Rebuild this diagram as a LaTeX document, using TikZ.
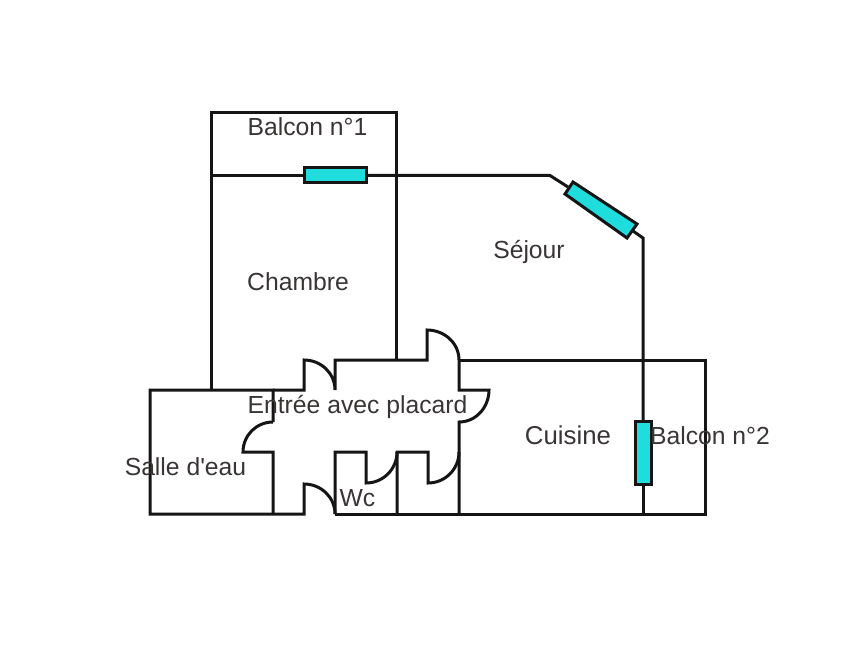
\documentclass[tikz,border=0pt]{standalone}
\usepackage{fontspec}
\setmainfont{Liberation Sans}[Ligatures=TeXOff]
\definecolor{wallc}{HTML}{151515}
\definecolor{glass}{HTML}{1FDDDD}
\definecolor{txt}{HTML}{3A3535}
\tikzset{
  wall/.style={draw=wallc,line width=3pt,line join=miter,line cap=butt},
  pane/.style={draw=wallc,fill=glass,line width=3pt,line join=miter},
  lbl/.style={text=txt,font=\fontsize{24.7}{28}\selectfont,inner sep=0pt,anchor=base}
}
\begin{document}
\begin{tikzpicture}[x=1pt,y=-1pt]
\useasboundingbox (0,0) rectangle (860,650);
\fill[white] (0,0) rectangle (860,650);
% Balcon 1 and Chambre
\draw[wall] (396,175) -- (396,113) -- (211,113) -- (211,390);
\draw[wall,line width=3.6pt] (211,175.5) -- (304,175.5);
\draw[wall] (396,175) -- (396,360);
% Facade and Sejour
\draw[wall] (366,175.5) -- (550,175.5) -- (568,187);
\draw[wall] (633,231) -- (643,238) -- (643,421);
\draw[wall] (643,484) -- (643,514);
% Salle d'eau
\draw[wall] (273,422) -- (273,390) -- (150,390) -- (150,514) -- (304,514) -- (304,484) to[out=0,in=90] (335,514);
\draw[wall] (273,422) to[out=180,in=90] (243,452) -- (273,452) -- (273,514);
% Entree top
\draw[wall] (273,390) -- (304,390) -- (304,360) to[out=0,in=90] (335,390) -- (335,360) -- (427,360) -- (427,330) to[out=0,in=90] (459,360) -- (459,390) -- (489,390) to[out=-90,in=0] (459,422) -- (459,514);
% Placards and WC
\draw[wall] (459,452) to[out=-90,in=0] (428,483) -- (428,452) -- (397,452) -- (397,514);
\draw[wall] (397,452) to[out=-90,in=0] (366,483) -- (366,452) -- (335,452) -- (335,514);
% Cuisine and Balcon 2
\draw[wall] (335,514) -- (705,514) -- (705,360) -- (459,360);
% Windows
\draw[pane] (304,168) rectangle (366,183);
\draw[pane] (573,182) -- (637,224) -- (627,238) -- (565,194) -- cycle;
\draw[pane] (635,421) rectangle (651,484);
% Labels
\node[lbl] (balcona) at (307.5,136) {Balcon n°1};
\node[lbl] (chambre) at (298,290) {Chambre};
\node[lbl] (sejour) at (529,258) {Séjour};
\node[lbl] (entree) at (357.5,413) {Entrée avec placard};
\node[lbl,font=\fontsize{25.8}{28}\selectfont] (cuisine) at (568,444) {Cuisine};
\node[lbl] (balconb) at (710,444) {Balcon n°2};
\node[lbl] (salle) at (185.5,475) {Salle d'eau};
\node[lbl] (wc) at (357.5,506) {Wc};
\end{tikzpicture}
\end{document}
